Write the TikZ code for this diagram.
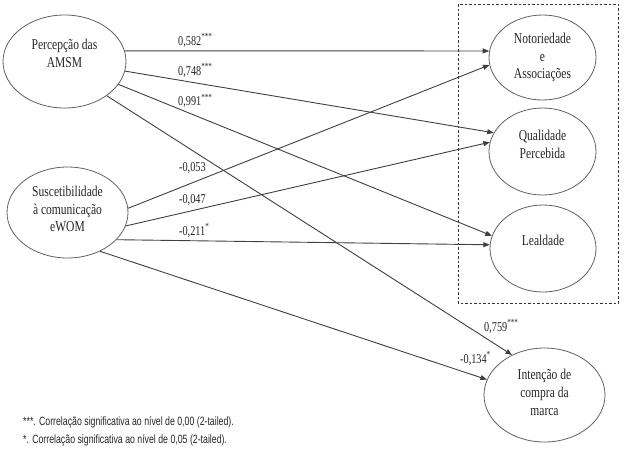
\documentclass[tikz,border=0pt]{standalone}
\usepackage{fontspec}
\usetikzlibrary{shapes.geometric,arrows.meta}
\newfontfamily\nodefont[FakeStretch=0.77]{Liberation Serif}
\newfontfamily\coeffont[FakeStretch=0.76]{Liberation Serif}
\newfontfamily\notefont[FakeStretch=0.73]{Liberation Sans}
\begin{document}
\begin{tikzpicture}[x=1pt,y=-1pt,
  oval/.style={draw=black!62, line width=0.8pt, ellipse, inner sep=0pt},
  ovaltext/.style={align=center, font=\nodefont\fontsize{15}{17.8}\selectfont, inner sep=0pt, text=black!85},
  coef/.style={anchor=base west, font=\coeffont\fontsize{13.5}{15}\selectfont, inner sep=0pt, text=black!85},
  note/.style={anchor=base west, font=\notefont\fontsize{12}{13}\selectfont, inner sep=0pt, text=black!85},
  link/.style={draw=black!75, line width=0.9pt, -{Triangle[length=6.5pt,width=5pt]}},
  groupbox/.style={draw=black!80, line width=0.6pt, dash pattern=on 2.5pt off 2pt}
]
\useasboundingbox[fill=white] (0,0) rectangle (627,467);

% dashed group box
\draw[groupbox] (458,4) rectangle (618,303);

% ellipses
\node[oval, minimum width=123pt, minimum height=93pt] (perc) at (64.5,61.5) {};
\node[oval, minimum width=121pt, minimum height=91pt] (susc) at (67.5,212.5) {};
\node[oval, minimum width=107pt, minimum height=85pt] (noto) at (542.5,57.5) {};
\node[oval, minimum width=107pt, minimum height=87pt] (qual) at (542.5,151.5) {};
\node[oval, minimum width=106pt, minimum height=87pt] (leal) at (543,248.5) {};
\node[oval, minimum width=121pt, minimum height=94pt] (inte) at (544.5,395) {};

% ellipse texts
\node[ovaltext] (tperc) at (64.5,53.5) {Percepção das\\AMSM};
\node[ovaltext] (tsusc) at (67.5,209) {Suscetibilidade\\à comunicação\\eWOM};
\node[ovaltext] (tnoto) at (542.5,57.5) {Notoriedade\\e\\Associações};
\node[ovaltext] (tqual) at (542.5,144.5) {Qualidade\\Percebida};
\node[ovaltext] (tleal) at (543,240) {Lealdade};
\node[ovaltext] (tinte) at (544.5,392.5) {Intenção de\\compra da\\marca};

% connectors
\draw[link] (perc.10.8) -- (noto.173);
\draw[link] (perc.-9.5) -- (qual.159);
\draw[link] (perc.-23.7) -- (leal.166);
\draw[link] (perc.-39.7) -- (inte.129);
\draw[link] (susc.4.3) -- (noto.188);
\draw[link] (susc.-13.7) -- (qual.170);
\draw[link] (susc.-29) -- (leal.176);
\draw[link] (susc.-50.6) -- (inte.165);

% coefficients
\node[coef] (c1) at (178,45) {0,582\textsuperscript{***}};
\node[coef] (c2) at (178,75) {0,748\textsuperscript{***}};
\node[coef] (c3) at (178,105.5) {0,991\textsuperscript{***}};
\node[coef] (c4) at (179,171) {-0,053};
\node[coef] (c5) at (179,203) {-0,047};
\node[coef] (c6) at (179,235) {-0,211\textsuperscript{*}};
\node[coef] (c7) at (484,331) {0,759\textsuperscript{***}};
\node[coef] (c8) at (460,363) {-0,134\textsuperscript{*}};

% notes
\node[note] (n1) at (23,425) {***. Correlação significativa ao nível de 0,00 (2-tailed).};
\node[note] (n2) at (23,443) {*. Correlação significativa ao nível de 0,05 (2-tailed).};
\end{tikzpicture}
\end{document}
